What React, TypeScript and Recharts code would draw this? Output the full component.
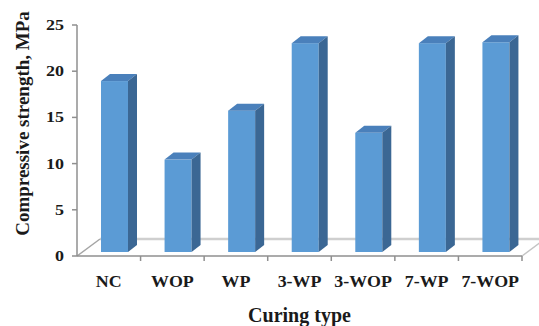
import * as React from 'react';
import { BarChart, Bar, XAxis, YAxis, ReferenceLine } from 'recharts';

const categories = ['NC', 'WOP', 'WP', '3-WP', '3-WOP', '7-WP', '7-WOP'];
const strength = [18.5, 10.0, 15.3, 22.6, 12.9, 22.6, 22.7];
const yTicks = [0, 5, 10, 15, 20, 25];

const data = categories.map((type, i) => ({ type, strength: strength[i] }));

const FONT = '"Liberation Serif", "Times New Roman", serif';
const TXT = '#1a1a1a';
const AXIS = '#8f8f8f';

// 3d look: front face pushed a bit to the right/up, depth to the back
const SHIFT_X = 6;
const SHIFT_Y = -4;
const DEPTH_X = 9;
const DEPTH_Y = -7;

const Bar3D = (props: any) => {
  const { x, y, width, height } = props;
  if (!height || height <= 0) return null;
  const fx = x + SHIFT_X;
  const fy = y + SHIFT_Y;
  const bottom = fy + height;
  const top = `${fx},${fy} ${fx + DEPTH_X},${fy + DEPTH_Y} ${fx + width + DEPTH_X},${fy + DEPTH_Y} ${fx + width},${fy}`;
  const side = `${fx + width},${fy} ${fx + width + DEPTH_X},${fy + DEPTH_Y} ${fx + width + DEPTH_X},${bottom + DEPTH_Y} ${fx + width},${bottom}`;
  return (
    <g>
      <rect x={fx} y={fy} width={width} height={height} fill="#5b9bd5" />
      <polygon points={top} fill="#4a80bb" />
      <polygon points={side} fill="#3b6794" />
    </g>
  );
};

// floor of the 3d plot, built off the y=0 line
const Floor = (props: any) => {
  const { x1, y1, x2 } = props;
  const dx = 23;
  const dy = -17;
  return (
    <g>
      <line x1={x1 + dx} y1={y1 + dy} x2={x2 + dx} y2={y1 + dy} stroke="#cfcfcf" strokeWidth={2.5} />
      <line x1={x1} y1={y1} x2={x1 + dx} y2={y1 + dy} stroke="#a5a5a5" strokeWidth={1.5} />
      <line x1={x2} y1={y1} x2={x2 + dx} y2={y1 + dy} stroke="#c4c4c4" strokeWidth={1.5} />
    </g>
  );
};

const XTick = (props: any) => {
  const { x, y, payload } = props;
  const half = payload && payload.offset ? payload.offset : 31.8;
  return (
    <g>
      <line x1={x + half} y1={y} x2={x + half} y2={y + 5} stroke={AXIS} strokeWidth={1.5} />
      <g transform={`translate(${x}, ${y + 31}) scale(1.12, 1)`}>
        <text x={0} y={0} textAnchor="middle" fontFamily={FONT} fontWeight="bold" fontSize={16} fill={TXT}>
          {payload.value}
        </text>
      </g>
    </g>
  );
};

const YTick = (props: any) => {
  const { x, y, payload } = props;
  return (
    <g transform={`translate(${x + 2}, ${y + 5}) scale(1.2, 1)`}>
      <text x={0} y={0} textAnchor="end" fontFamily={FONT} fontWeight="bold" fontSize={15} fill={TXT}>
        {payload.value}
      </text>
    </g>
  );
};

const YLabel = (props: any) => {
  const vb = props.viewBox || { x: 0, y: 25, width: 77, height: 231 };
  const cx = vb.x + 22;
  const cy = vb.y + vb.height / 2 - 17;
  return (
    <text
      x={cx}
      y={cy}
      transform={`rotate(-90, ${cx}, ${cy})`}
      textAnchor="middle"
      dominantBaseline="central"
      fontFamily={FONT}
      fontWeight="bold"
      fontSize={19}
      fill={TXT}
    >
      Compressive strength, MPa
    </text>
  );
};

export default function App() {
  return (
    <div style={{ position: 'absolute', left: 0, top: 0, background: '#fff' }}>
      <BarChart
        width={539}
        height={326}
        data={data}
        margin={{ top: 25, right: 17, bottom: 0, left: 0 }}
        barSize={27}
      >
        <XAxis
          dataKey="type"
          height={70}
          axisLine={{ stroke: AXIS, strokeWidth: 1.5 }}
          tickLine={false}
          tickSize={0}
          tickMargin={0}
          tick={<XTick />}
          interval={0}
          label={{
            value: 'Curing type',
            position: 'insideBottom',
            offset: 4,
            style: { fontFamily: FONT, fontWeight: 'bold', fontSize: 20, fill: TXT },
          }}
        />
        <YAxis
          width={77}
          domain={[0, 25]}
          ticks={yTicks}
          axisLine={{ stroke: AXIS, strokeWidth: 1.5 }}
          tickLine={{ stroke: AXIS, strokeWidth: 1.5 }}
          tickSize={5}
          tickMargin={10}
          tick={<YTick />}
          label={<YLabel />}
        />
        <ReferenceLine y={0} stroke="none" shape={<Floor />} zIndex={-10} />
        <Bar dataKey="strength" shape={<Bar3D />} isAnimationActive={false} />
      </BarChart>
    </div>
  );
}
